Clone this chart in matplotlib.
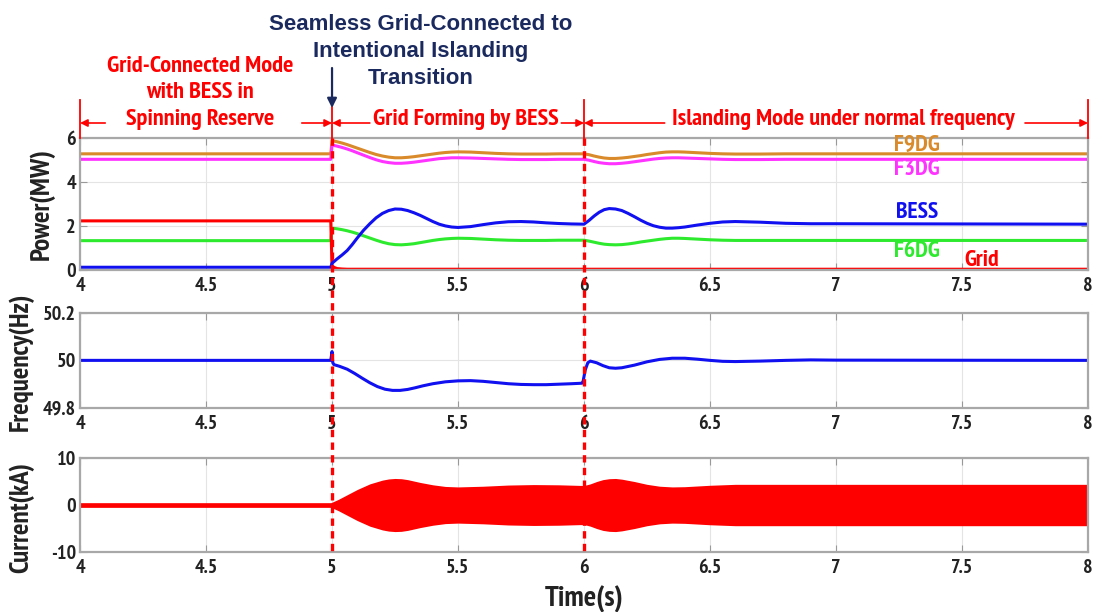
import matplotlib
matplotlib.use("Agg")
import matplotlib.pyplot as plt
from matplotlib import font_manager
from matplotlib.text import Annotation
from matplotlib.transforms import blended_transform_factory

# ---------------- data ----------------
p_time = [4.0, 4.995, 5.0, 5.02, 5.04, 5.06, 5.08, 5.1, 5.125, 5.15, 5.175, 5.2, 5.225,
          5.25, 5.275, 5.3, 5.325, 5.35, 5.375, 5.4, 5.425, 5.45, 5.475, 5.5, 5.55, 5.6,
          5.65, 5.7, 5.75, 5.8, 5.85, 5.9, 5.95, 6.0, 6.02, 6.04, 6.06, 6.08, 6.1, 6.125,
          6.15, 6.175, 6.2, 6.225, 6.25, 6.275, 6.3, 6.325, 6.35, 6.375, 6.4, 6.45, 6.5,
          6.55, 6.6, 6.7, 6.8, 6.9, 7.0, 8.0]
f9dg = [5.28, 5.28, 5.88, 5.83, 5.77, 5.70, 5.62, 5.54, 5.44, 5.34, 5.25, 5.18, 5.13,
        5.10, 5.10, 5.12, 5.15, 5.19, 5.23, 5.27, 5.31, 5.34, 5.36, 5.37, 5.36, 5.33,
        5.30, 5.28, 5.27, 5.27, 5.27, 5.28, 5.28, 5.28, 5.24, 5.18, 5.13, 5.09, 5.07, 5.07,
        5.09, 5.12, 5.16, 5.20, 5.25, 5.29, 5.33, 5.36, 5.37, 5.37, 5.36, 5.33, 5.30,
        5.28, 5.27, 5.27, 5.28, 5.28, 5.28, 5.28]
f3dg = [5.03, 5.03, 5.68, 5.63, 5.57, 5.50, 5.42, 5.33, 5.22, 5.11, 5.01, 4.93, 4.88,
        4.85, 4.85, 4.87, 4.90, 4.94, 4.98, 5.02, 5.06, 5.08, 5.10, 5.10, 5.09, 5.07,
        5.05, 5.03, 5.02, 5.02, 5.02, 5.03, 5.03, 5.03, 4.99, 4.93, 4.88, 4.85, 4.83, 4.83,
        4.85, 4.88, 4.92, 4.96, 5.00, 5.04, 5.07, 5.09, 5.10, 5.10, 5.09, 5.07, 5.05,
        5.03, 5.02, 5.02, 5.03, 5.03, 5.03, 5.03]
bess = [0.12, 0.12, 0.30, 0.50, 0.68, 0.88, 1.15, 1.45, 1.80, 2.10, 2.37, 2.57, 2.70,
        2.77, 2.76, 2.70, 2.60, 2.48, 2.34, 2.20, 2.08, 2.00, 1.95, 1.93, 1.97, 2.06,
        2.14, 2.19, 2.20, 2.18, 2.14, 2.11, 2.09, 2.08, 2.25, 2.45, 2.62, 2.74, 2.79, 2.77,
        2.70, 2.57, 2.42, 2.26, 2.12, 2.01, 1.94, 1.90, 1.90, 1.92, 1.95, 2.04, 2.12,
        2.18, 2.20, 2.17, 2.12, 2.10, 2.10, 2.08]
f6dg = [1.33, 1.33, 1.90, 1.87, 1.83, 1.78, 1.72, 1.65, 1.55, 1.45, 1.35, 1.26, 1.19,
        1.15, 1.14, 1.16, 1.19, 1.24, 1.29, 1.34, 1.38, 1.41, 1.43, 1.44, 1.43, 1.40,
        1.37, 1.35, 1.34, 1.34, 1.34, 1.35, 1.35, 1.35, 1.31, 1.26, 1.21, 1.17, 1.15, 1.14,
        1.15, 1.18, 1.22, 1.27, 1.31, 1.35, 1.39, 1.42, 1.44, 1.44, 1.43, 1.40, 1.37,
        1.35, 1.34, 1.34, 1.34, 1.34, 1.34, 1.34]
grid = [2.23, 2.23, 0.15, 0.06, 0.04, 0.03, 0.03, 0.03, 0.03, 0.03, 0.03, 0.03, 0.03,
        0.03, 0.03, 0.03, 0.03, 0.03, 0.03, 0.03, 0.03, 0.03, 0.03, 0.03, 0.03, 0.03,
        0.03, 0.03, 0.03, 0.03, 0.03, 0.03, 0.03, 0.03, 0.03, 0.03, 0.03, 0.03, 0.03, 0.03,
        0.03, 0.03, 0.03, 0.03, 0.03, 0.03, 0.03, 0.03, 0.03, 0.03, 0.03, 0.03, 0.03,
        0.03, 0.03, 0.03, 0.03, 0.03, 0.03, 0.03]

f_time = [4.0, 4.995, 5.0, 5.003, 5.008, 5.03, 5.06, 5.09, 5.12, 5.15, 5.18, 5.21, 5.24,
          5.27, 5.3, 5.33, 5.36, 5.4, 5.45, 5.5, 5.55, 5.6, 5.65, 5.7, 5.75, 5.8, 5.85,
          5.9, 5.95, 5.99, 5.995, 6.005, 6.015, 6.025, 6.05, 6.075, 6.1, 6.125, 6.15, 6.2,
          6.25, 6.3, 6.35, 6.4, 6.45, 6.5, 6.55, 6.6, 6.7, 6.8, 6.9, 7.0, 8.0]
freq = [50.0, 50.0, 50.037, 49.99, 49.982, 49.975, 49.963, 49.945, 49.925, 49.906,
        49.89, 49.879, 49.874, 49.874, 49.878, 49.885, 49.893, 49.902, 49.91, 49.914,
        49.915, 49.912, 49.907, 49.902, 49.899, 49.898, 49.898, 49.9, 49.902, 49.904,
        49.905, 49.96, 49.99, 49.997, 49.99, 49.978, 49.969, 49.967, 49.969, 49.98,
        49.994, 50.004, 50.009, 50.009, 50.005, 50.0, 49.996, 49.995, 49.997, 50.0,
        50.002, 50.001, 50.0]

i_time = [4.0, 4.995, 5.0, 5.025, 5.05, 5.075, 5.1, 5.125, 5.15, 5.175, 5.2, 5.225, 5.25,
          5.275, 5.3, 5.35, 5.4, 5.45, 5.5, 5.6, 5.7, 5.8, 5.9, 6.0, 6.025, 6.05, 6.075,
          6.1, 6.125, 6.15, 6.2, 6.25, 6.3, 6.35, 6.4, 6.5, 6.6, 6.8, 8.0]
i_amp = [0.5, 0.5, 0.6, 1.2, 1.9, 2.6, 3.3, 3.9, 4.5, 4.9, 5.3, 5.55, 5.65, 5.6, 5.4,
         4.8, 4.3, 3.95, 3.85, 4.0, 4.25, 4.35, 4.3, 4.15, 4.5, 5.0, 5.4, 5.6, 5.65, 5.5,
         5.0, 4.4, 4.0, 3.85, 3.9, 4.2, 4.4, 4.4, 4.4]

x_ticks = [4, 4.5, 5, 5.5, 6, 6.5, 7, 7.5, 8]
x_ticklabels = ["4", "4.5", "5", "5.5", "6", "6.5", "7", "7.5", "8"]
p_ticks = [0, 2, 4, 6]
f_ticks = [49.8, 50, 50.2]
f_ticklabels = ["49.8", "50", "50.2"]
i_ticks = [-10, 0, 10]
events = [5, 6]
title_lines = ["Seamless Grid-Connected to", "Intentional Islanding", "Transition"]

# ---------------- fonts ----------------
def _w(v):
    if isinstance(v, (int, float)):
        return v
    return {"bold": 700, "heavy": 800, "black": 900, "semibold": 600, "demibold": 600}.get(str(v).lower(), 400)

_bold = {}
for f in font_manager.fontManager.ttflist:
    if _w(f.weight) >= 700:
        _bold.setdefault(f.name, []).append(f)
cands = ["Liberation Sans Narrow", "Arial Narrow", "PT Sans Narrow", "Fira Sans Condensed",
         "Roboto Condensed", "IBM Plex Sans Condensed", "Encode Sans Condensed",
         "Barlow Semi Condensed", "Asap Condensed", "Archivo Narrow", "Pragati Narrow",
         "Open Sans Condensed"]
NARROW = dict(family="DejaVu Sans")
for c in cands:
    if c in _bold:
        NARROW = dict(family=c)
        break
WIDE = dict(family="Liberation Sans" if "Liberation Sans" in _bold else "DejaVu Sans")

C_ORANGE = "#D98A2A"
C_MAG = "#FF33FF"
C_BLUE = "#1010F0"
C_GREEN = "#2EEA2E"
C_RED = "#FF0000"
C_NAVY = "#1B2A5E"
C_TXT = "#222222"

fig = plt.figure(figsize=(11.04, 6.12), dpi=100)
ax1 = fig.add_axes([0.0725, 0.559, 0.913, 0.2155])
ax2 = fig.add_axes([0.0725, 0.3333, 0.913, 0.1557])
ax3 = fig.add_axes([0.0725, 0.098, 0.913, 0.1536])

TK = dict(fontsize=14.5, fontweight="bold", color=C_TXT, **NARROW)
for ax in (ax1, ax2, ax3):
    ax.set_xlim(4, 8)
    ax.set_xticks(x_ticks)
    ax.set_xticklabels(x_ticklabels, **TK)
    ax.grid(True, color="#e4e4e4", lw=0.8)
    ax.set_axisbelow(True)
    for s in ax.spines.values():
        s.set_color("#a8a8a8")
        s.set_linewidth(1.6)
    ax.tick_params(direction="in", length=5, color="#999999", top=True, right=True)
    ax.tick_params(axis="x", pad=5)
    ax.tick_params(axis="y", pad=3)

# Power
ax1.plot(p_time, f9dg, color=C_ORANGE, lw=2.2)
ax1.plot(p_time, f3dg, color=C_MAG, lw=2.2)
ax1.plot(p_time, f6dg, color=C_GREEN, lw=2.2)
ax1.plot(p_time, grid, color=C_RED, lw=2.2)
ax1.plot(p_time, bess, color=C_BLUE, lw=2.2)
ax1.set_ylim(0, 6)
ax1.set_yticks(p_ticks)
ax1.set_yticklabels([str(v) for v in p_ticks], **TK)
YL = dict(fontsize=19.5, fontweight="bold", color=C_TXT, **NARROW)
ax1.set_ylabel("Power(MW)", **YL)
ax1.yaxis.set_label_coords(-0.025, 0.5)

lab = dict(fontsize=17, fontweight="bold", ha="center", va="center", **NARROW)
ax1.text(7.32, 5.64, "F9DG", color=C_ORANGE, **lab)
ax1.text(7.32, 4.55, "F3DG", color=C_MAG, **lab)
ax1.text(7.32, 2.59, "BESS", color=C_BLUE, **lab)
ax1.text(7.32, 0.82, "F6DG", color=C_GREEN, **lab)
ax1.text(7.58, 0.45, "Grid", color=C_RED, **lab)

# Frequency
ax2.plot(f_time, freq, color=C_BLUE, lw=2.2)
ax2.set_ylim(49.8, 50.2)
ax2.set_yticks(f_ticks)
ax2.set_yticklabels(f_ticklabels, **TK)
ax2.set_ylabel("Frequency(Hz)", **YL)
ax2.yaxis.set_label_coords(-0.046, 0.49)

# Current
neg_amp = [-a for a in i_amp]
ax3.fill_between(i_time, neg_amp, i_amp, color=C_RED, lw=0)
ax3.set_ylim(-10, 10)
ax3.set_yticks(i_ticks)
ax3.set_yticklabels([str(v) for v in i_ticks], **TK)
ax3.set_ylabel("Current(kA)", **YL)
ax3.yaxis.set_label_coords(-0.045, 0.37)
ax3.set_xlabel("Time(s)", fontsize=21, fontweight="bold", color=C_TXT, labelpad=6, **NARROW)

# ---------------- annotations in the figure ----------------
tr = blended_transform_factory(ax1.transData, fig.transFigure)

def fy(px):
    return 1 - px / 612.0

for ev in events:
    fig.add_artist(plt.Line2D([ev, ev], [fy(138), fy(553)], transform=tr, color=C_RED,
                              lw=2.4, ls=(0, (2.2, 1.6)), zorder=10))

for xb, top in [(4, 100), (5, 107), (6, 100), (8, 100)]:
    fig.add_artist(plt.Line2D([xb, xb], [fy(top), fy(138)], transform=tr, color=C_RED, lw=1.3))

arr_y = fy(123)
ap = dict(arrowstyle="-|>", color=C_RED, lw=1.2, mutation_scale=11, shrinkA=0, shrinkB=0)
segments = [(4.10, 4.0), (4.88, 5.0), (5.15, 5.0), (5.91, 6.0), (6.32, 6.0), (7.75, 8.0)]
for x0, x1 in segments:
    fig.add_artist(Annotation("", xy=(x1, arr_y), xytext=(x0, arr_y),
                              xycoords=tr, textcoords=tr, arrowprops=ap))

rt = dict(fontsize=17.5, fontweight="bold", color=C_RED, ha="center", va="center",
          transform=tr, **NARROW)
fig.text(4.475, fy(66), "Grid-Connected Mode", **rt)
fig.text(4.475, fy(93), "with BESS in", **rt)
fig.text(4.475, fy(120), "Spinning Reserve", **rt)
fig.text(5.53, fy(120), "Grid Forming by BESS", **rt)
fig.text(7.03, fy(120), "Islanding Mode under normal frequency", **rt)

for line, ypx in zip(title_lines, [25, 52, 78]):
    fig.text(5.35, fy(ypx), line, fontsize=16, fontweight="bold", color=C_NAVY,
             ha="center", va="center", transform=tr, **WIDE)
fig.add_artist(Annotation(
    "", xy=(5, fy(108)), xytext=(5, fy(68)), xycoords=tr, textcoords=tr,
    arrowprops=dict(arrowstyle="-|>", color=C_NAVY, lw=1.6, mutation_scale=14,
                    shrinkA=0, shrinkB=0)))

fig.savefig("out.png", dpi=100)
